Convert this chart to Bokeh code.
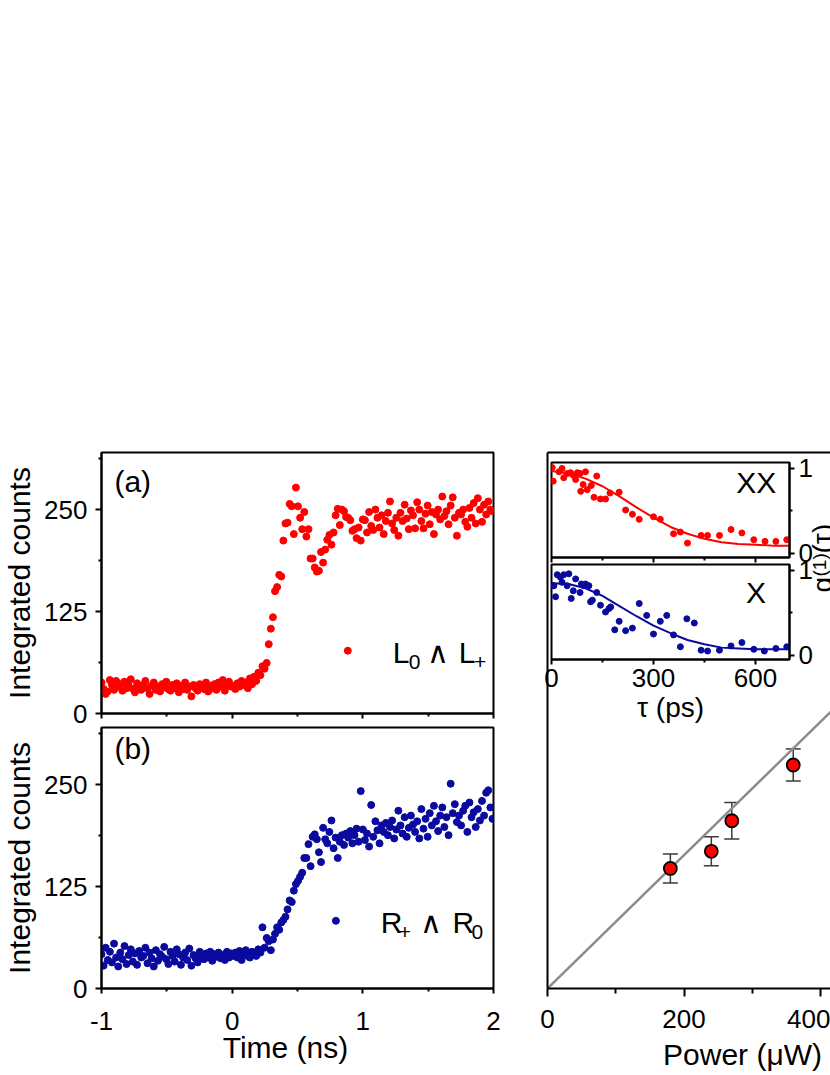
from bokeh.plotting import figure
from bokeh.models import (FixedTicker, Label, Whisker, TeeHead,
                          ColumnDataSource, Range1d, LinearAxis)
from bokeh.embed import file_html
from bokeh.resources import INLINE

W, H = 830, 1075
FONT = "Liberation Sans"
RED = "#ff0000"
BLUE = "#0a0a9e"

# ---------------- data ----------------
TIME_PS = [
    -1000, -984, -968, -952, -936, -920, -904, -888, -872, -856,
    -840, -824, -808, -792, -776, -760, -744, -728, -712, -696,
    -680, -664, -648, -632, -616, -600, -584, -568, -552, -536,
    -520, -504, -488, -472, -456, -440, -424, -408, -392, -376,
    -360, -344, -328, -312, -296, -280, -264, -248, -232, -216,
    -200, -184, -168, -152, -136, -120, -104, -88, -72, -56,
    -40, -24, -8, 8, 24, 40, 56, 72, 88, 104,
    120, 136, 152, 168, 184, 200, 216, 232, 248, 264,
    280, 296, 312, 328, 344, 360, 376, 392, 408, 424,
    440, 456, 472, 488, 504, 520, 536, 552, 568, 584,
    600, 616, 632, 648, 664, 680, 696, 712, 728, 744,
    760, 776, 792, 808, 824, 840, 856, 872, 888, 904,
    920, 936, 952, 968, 984, 1000, 1016, 1032, 1048, 1064,
    1080, 1096, 1112, 1128, 1144, 1160, 1176, 1192, 1208, 1224,
    1240, 1256, 1272, 1288, 1304, 1320, 1336, 1352, 1368, 1384,
    1400, 1416, 1432, 1448, 1464, 1480, 1496, 1512, 1528, 1544,
    1560, 1576, 1592, 1608, 1624, 1640, 1656, 1672, 1688, 1704,
    1720, 1736, 1752, 1768, 1784, 1800, 1816, 1832, 1848, 1864,
    1880, 1896, 1912, 1928, 1944, 1960, 1976, 1992,
]

COUNTS_A = [
    38, 30, 24, 27, 41, 35, 29, 40, 33, 36,
    28, 39, 31, 34, 42, 30, 26, 37, 33, 29,
    35, 40, 31, 24, 34, 38, 29, 33, 27, 36,
    32, 39, 30, 28, 35, 31, 37, 26, 34, 30,
    38, 29, 33, 21, 35, 31, 28, 36, 33, 30,
    38, 27, 34, 31, 36, 29, 38, 33, 41, 28,
    35, 39, 33, 34, 30, 37, 33, 40, 35, 38,
    31, 43, 36, 45, 40, 50, 47, 58, 55, 62,
    85, 104, 118, 150, 155, 170, 168, 212, 233, 234,
    257, 254, 220, 277, 254, 240, 226, 247, 217, 226,
    190, 190, 179, 174, 175, 198, 185, 201, 213, 219,
    207, 222, 243, 251, 231, 250, 248, 241, 240, 237,
    224, 226, 215, 228, 212, 238, 237, 222, 247, 230,
    225, 250, 240, 228, 243, 220, 236, 246, 260, 233,
    225, 240, 218, 246, 236, 256, 239, 226, 249, 243,
    227, 259, 250, 236, 227, 245, 255, 232, 247, 220,
    244, 250, 238, 266, 242, 248, 232, 255, 265, 240,
    218, 246, 244, 250, 235, 229, 252, 240, 258, 233,
    264, 250, 235, 256, 244, 260, 250, 248,
]

COUNTS_B = [
    42, 28, 50, 35, 45, 32, 55, 38, 27, 44,
    36, 52, 30, 41, 48, 33, 43, 29, 46, 38,
    40, 50, 31, 44, 37, 27, 47, 34, 42, 39,
    51, 36, 30, 45, 40, 33, 48, 42, 29, 38,
    44, 35, 49, 28, 41, 37, 32, 45, 40, 36,
    43, 38, 45, 34, 42, 39, 44, 37, 41, 35,
    45, 38, 43, 40, 44, 38, 46, 35, 42, 47,
    40, 38, 45, 44, 40, 48, 44, 75, 50, 62,
    58, 47, 60, 67, 75, 72, 81, 84, 88, 97,
    108, 106, 120, 128, 132, 137, 142, 160, 160, 177,
    150, 186, 189, 183, 167, 155, 197, 183, 178, 192,
    206, 172, 185, 160, 180, 188, 176, 190, 185, 193,
    178, 188, 196, 180, 242, 195, 182, 190, 174, 225,
    186, 205, 194, 178, 200, 192, 203, 188, 198, 206,
    184, 195, 218, 200, 190, 210, 186, 197, 212, 201,
    192, 205, 184, 220, 196, 208, 186, 215, 200, 224,
    205, 193, 212, 222, 198, 210, 188, 251, 215, 226,
    204, 212, 200, 218, 224, 192, 228, 210, 216, 198,
    220, 206, 230, 212, 240, 243, 222, 208,
]

TAU_XX = [2, 5, 22, 31, 36, 46, 56, 64, 71, 76,
          84, 86, 93, 100, 105, 117, 125, 133, 144, 159,
          172, 199, 218, 238, 258, 300, 320, 359, 379, 400,
          440, 459, 494, 528, 560, 595, 628, 660, 692]
G1_XX = [1.01, 0.85, 0.96, 1.00, 0.89, 0.94, 0.95, 0.92, 0.87, 0.95,
         0.94, 0.73, 0.81, 0.96, 0.75, 0.80, 0.66, 0.91, 0.64, 0.64,
         0.71, 0.72, 0.51, 0.46, 0.40, 0.43, 0.40, 0.23, 0.25, 0.12,
         0.21, 0.21, 0.21, 0.28, 0.24, 0.16, 0.14, 0.14, 0.16]

TAU_X = [5, 7, 12, 17, 26, 31, 36, 46, 51, 58,
         64, 71, 84, 88, 95, 100, 110, 115, 120, 133,
         144, 159, 169, 174, 186, 199, 218, 238, 258, 280,
         300, 320, 339, 359, 379, 398, 420, 440, 459, 494,
         528, 560, 595, 626, 660, 692]
G1_X = [0.82, 0.82, 0.69, 0.95, 0.92, 0.86, 0.95, 0.82, 0.96, 0.67,
        0.76, 0.90, 0.74, 0.84, 0.82, 0.84, 0.82, 0.63, 0.65, 0.74,
        0.59, 0.51, 0.55, 0.57, 0.30, 0.40, 0.29, 0.32, 0.61, 0.47,
        0.25, 0.40, 0.47, 0.24, 0.10, 0.43, 0.38, 0.06, 0.05, 0.06,
        0.11, 0.15, 0.07, 0.05, 0.08, 0.10]

FIT_TAU = [0, 50, 100, 150, 200, 250, 300, 350, 400, 450, 500, 550, 600, 650, 700]
FIT_XX = [0.97, 0.94, 0.88, 0.79, 0.67, 0.54, 0.42, 0.31, 0.23, 0.17, 0.13, 0.11, 0.10, 0.09, 0.09]
FIT_X = [0.85, 0.84, 0.79, 0.70, 0.58, 0.46, 0.35, 0.26, 0.18, 0.13, 0.09, 0.08, 0.07, 0.07, 0.07]

POWER = [180, 240, 270, 360]
LINEWIDTH = [22.4, 25.6, 31.3, 41.7]
LINEWIDTH_ERR = [2.7, 2.7, 3.4, 3.0]
LINE_POWER = [0, 420]
LINE_WIDTH = [0, 52.25]

time_ns = [t / 1000 for t in TIME_PS]

ABS = {"position": "absolute", "left": "0px", "top": "0px"}


# ---------------- helpers ----------------
def make_fig(xr, yr, left, right, top, bottom, y_loc="left", x_loc="below"):
    p = figure(width=W, height=H, x_range=xr, y_range=yr,
               y_axis_location=y_loc, x_axis_location=x_loc,
               min_border_left=left, min_border_right=right,
               min_border_top=top, min_border_bottom=bottom,
               output_backend="svg", toolbar_location=None, styles=ABS)
    p.background_fill_color = None
    p.border_fill_color = None
    p.outline_line_color = "black"
    p.outline_line_width = 2
    p.grid.visible = False
    return p


def style_axis(ax, ticks, minor, tick_size="26px", show_labels=True,
               major_out=6, minor_out=3, standoff=6):
    ax.ticker = FixedTicker(ticks=ticks, minor_ticks=minor)
    ax.axis_line_width = 2
    ax.axis_line_color = "black"
    ax.major_tick_line_width = 2
    ax.minor_tick_line_width = 2
    ax.major_tick_line_color = "black"
    ax.minor_tick_line_color = "black"
    ax.major_tick_in = 0
    ax.minor_tick_in = 0
    ax.major_tick_out = major_out
    ax.minor_tick_out = minor_out
    ax.major_label_text_font = FONT
    ax.major_label_text_font_size = tick_size
    ax.major_label_text_color = "black" if show_labels else None
    ax.major_label_standoff = standoff
    ax.axis_label_text_font = FONT
    ax.axis_label_text_font_size = "30px"
    ax.axis_label_text_font_style = "normal"
    ax.axis_label_text_color = "black"


def txt(p, x, y, s, size="30px", align="left", angle=0.0, font=FONT):
    p.add_layout(Label(x=x, y=y, text=s, text_font=font, text_font_size=size,
                       text_color="black", text_align=align,
                       text_baseline="alphabetic", angle=angle))


# ---------------- panel (a) ----------------
pa = make_fig(Range1d(-1, 2), Range1d(0, 320), 100, 337, 452, 362)
style_axis(pa.xaxis[0], [-1, 0, 1, 2], [-0.5, 0.5, 1.5], show_labels=False, major_out=5)
style_axis(pa.yaxis[0], [0, 125, 250], [62.5, 187.5, 312.5], standoff=8)
pa.yaxis.axis_label = "Integrated counts"
pa.yaxis.axis_label_standoff = 5
pa.scatter(time_ns, COUNTS_A, size=7, color=RED)
pa.scatter([0.885], [77], size=7, color=RED)
txt(pa, -0.901, 284, "(a)")
txt(pa, 1.229, 75.4, "L")
txt(pa, 1.352, 63, "0", size="21px")
txt(pa, 1.49, 75.4, "\u2227", size="30px")
txt(pa, 1.735, 75.4, "L")
txt(pa, 1.85, 63, "+", size="21px")

# ---------------- panel (b) ----------------
pb = make_fig(Range1d(-1, 2), Range1d(0, 320), 100, 337, 727, 87)
style_axis(pb.xaxis[0], [-1, 0, 1, 2], [-0.5, 0.5, 1.5], major_out=5, standoff=18)
pb.xaxis.major_label_overrides = {-1: "-1"}
style_axis(pb.yaxis[0], [0, 125, 250], [62.5, 187.5, 312.5], standoff=8)
pb.yaxis.axis_label = "Integrated counts"
pb.yaxis.axis_label_standoff = 5
pb.scatter(time_ns, COUNTS_B, size=7, color=BLUE)
pb.scatter([0.794], [83], size=7, color=BLUE)
txt(pb, -0.901, 294, "(b)")
txt(pb, 1.137, 81.5, "R")
txt(pb, 1.275, 69.1, "+", size="21px")
txt(pb, 1.44, 81.5, "\u2227", size="30px")
txt(pb, 1.687, 81.5, "R")
txt(pb, 1.832, 69.1, "0", size="21px")

# ---------------- main right panel ----------------
pm = make_fig(Range1d(0, 414.6), Range1d(0, 100), 547, 0, 452, 87)
pm.outline_line_color = None
style_axis(pm.xaxis[0], [0, 200, 400], [100, 300], major_out=8, minor_out=5, standoff=13)
style_axis(pm.yaxis[0], [], [], show_labels=False)
top_axis = LinearAxis()
style_axis(top_axis, [], [], show_labels=False)
pm.add_layout(top_axis, "above")
pm.line(LINE_POWER, LINE_WIDTH, line_color="#8c8c8c", line_width=2.5)
src = ColumnDataSource(dict(
    x=POWER, y=LINEWIDTH,
    lo=[v - e for v, e in zip(LINEWIDTH, LINEWIDTH_ERR)],
    hi=[v + e for v, e in zip(LINEWIDTH, LINEWIDTH_ERR)]))
pm.add_layout(Whisker(source=src, base="x", upper="hi", lower="lo",
                      line_color="#3a3a3a", line_width=1.5,
                      upper_head=TeeHead(size=15, line_color="#3a3a3a", line_width=1.5),
                      lower_head=TeeHead(size=15, line_color="#3a3a3a", line_width=1.5)))
pm.scatter("x", "y", source=src, size=13, fill_color=RED, line_color="black", line_width=1.8)

# ---------------- inset XX ----------------
pxx = make_fig(Range1d(0, 700), Range1d(-0.05, 1.07), 551, 41, 462, 518, y_loc="right")
pxx.background_fill_color = "white"
style_axis(pxx.xaxis[0], [0, 300, 600], [150, 450], show_labels=False, major_out=5)
style_axis(pxx.yaxis[0], [0, 1], [0.5], tick_size="26px", major_out=5, standoff=4)
pxx.line(FIT_TAU, FIT_XX, line_color=RED, line_width=2)
pxx.scatter(TAU_XX, G1_XX, size=6, color=RED)
txt(pxx, 661, 0.84, "XX", size="30px", align="right")

# ---------------- inset X ----------------
px = make_fig(Range1d(0, 700), Range1d(-0.05, 1.07), 551, 41, 564, 416, y_loc="right")
px.background_fill_color = "white"
style_axis(px.xaxis[0], [0, 300, 600], [150, 450], major_out=5, standoff=4)
style_axis(px.yaxis[0], [0, 1], [0.5], tick_size="26px", major_out=5, standoff=4)
px.xaxis.axis_label = "\u03c4 (ps)"
px.xaxis.axis_label_text_font_size = "28px"
px.xaxis.axis_label_standoff = 2
px.line(FIT_TAU, FIT_X, line_color=BLUE, line_width=2)
px.scatter(TAU_X, G1_X, size=6, color=BLUE)
txt(px, 631, 0.74, "X", size="30px", align="right")

# ---------------- text overlay (page pixel frame) ----------------
ov = figure(width=W, height=H, x_range=Range1d(0, W), y_range=Range1d(H, 0),
            min_border=0, x_axis_location=None, y_axis_location=None,
            output_backend="svg", toolbar_location=None, styles=ABS)
ov.background_fill_color = None
ov.border_fill_color = None
ov.outline_line_color = None
ov.grid.visible = False
txt(ov, 285, 1047, "Time (ns)", align="center")
txt(ov, 742, 1054, "Power (\u03bcW)", align="center")
# shared y title of the two insets, cut by the page edge as in the original
txt(ov, 822, 592, "g", size="28px", angle=1.5708)
txt(ov, 819, 576, "(1)", size="19px", angle=1.5708)
txt(ov, 822, 553, "(\u03c4)", size="28px", angle=1.5708)

open("out.html", "w").write(file_html([pm, pa, pb, pxx, px, ov], INLINE))
